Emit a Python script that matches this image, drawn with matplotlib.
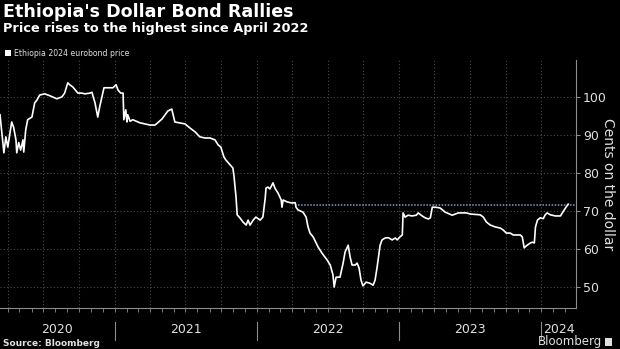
import matplotlib
matplotlib.use("Agg")
import matplotlib.pyplot as plt
import matplotlib.dates as mdates
import matplotlib.transforms as mtransforms
from matplotlib import font_manager
import numpy as np
import pandas as pd

# ---- data ----
dates = [
    "2020-03-12", "2020-03-22", "2020-03-27", "2020-04-01", "2020-04-11", "2020-04-16",
    "2020-04-22", "2020-04-24", "2020-04-29", "2020-05-04", "2020-05-10", "2020-05-12",
    "2020-05-17", "2020-05-22", "2020-06-02", "2020-06-09", "2020-06-15", "2020-06-22",
    "2020-07-05", "2020-07-18", "2020-08-05", "2020-08-18", "2020-08-25", "2020-09-02",
    "2020-09-07", "2020-09-15", "2020-09-28", "2020-10-08", "2020-10-16", "2020-10-29",
    "2020-11-03", "2020-11-11", "2020-11-18", "2020-11-23", "2020-12-04", "2020-12-14",
    "2020-12-27", "2021-01-04", "2021-01-09", "2021-01-16", "2021-01-22", "2021-01-24",
    "2021-01-29", "2021-02-01", "2021-02-03", "2021-02-09", "2021-02-16", "2021-03-06",
    "2021-03-19", "2021-04-01", "2021-04-14", "2021-04-21", "2021-05-02", "2021-05-10",
    "2021-05-17", "2021-05-27", "2021-06-04", "2021-06-30", "2021-07-13", "2021-07-26",
    "2021-08-07", "2021-08-20", "2021-09-02", "2021-09-15", "2021-09-23", "2021-09-30",
    "2021-10-08", "2021-10-13", "2021-10-24", "2021-10-31", "2021-11-03", "2021-11-08",
    "2021-11-11", "2021-11-18", "2021-11-26", "2021-12-04", "2021-12-09", "2021-12-14",
    "2021-12-22", "2021-12-29", "2022-01-09", "2022-01-16", "2022-01-22", "2022-01-24",
    "2022-01-29", "2022-02-03", "2022-02-11", "2022-02-16", "2022-02-24", "2022-03-04",
    "2022-03-06", "2022-03-09", "2022-03-19", "2022-04-01", "2022-04-09", "2022-04-11",
    "2022-04-16", "2022-04-29", "2022-05-07", "2022-05-12", "2022-05-17", "2022-05-25",
    "2022-06-07", "2022-06-17", "2022-06-30", "2022-07-08", "2022-07-15", "2022-07-18",
    "2022-07-23", "2022-08-02", "2022-08-10", "2022-08-15", "2022-08-23", "2022-08-28",
    "2022-09-02", "2022-09-10", "2022-09-15", "2022-09-20", "2022-09-25", "2022-09-30",
    "2022-10-08", "2022-10-18", "2022-10-26", "2022-10-31", "2022-11-05", "2022-11-13",
    "2022-11-18", "2022-11-26", "2022-12-04", "2022-12-14", "2022-12-22", "2022-12-27",
    "2023-01-03", "2023-01-09", "2023-01-11", "2023-01-16", "2023-01-24", "2023-02-03",
    "2023-02-14", "2023-02-19", "2023-03-01", "2023-03-09", "2023-03-17", "2023-03-22",
    "2023-03-27", "2023-04-04", "2023-04-16", "2023-04-29", "2023-05-17", "2023-06-02",
    "2023-06-22", "2023-07-03", "2023-07-28", "2023-08-05", "2023-08-13", "2023-08-23",
    "2023-09-05", "2023-09-18", "2023-09-25", "2023-10-03", "2023-10-13", "2023-10-21",
    "2023-10-31", "2023-11-08", "2023-11-13", "2023-11-18", "2023-11-23", "2023-12-04",
    "2023-12-09", "2023-12-14", "2023-12-17", "2023-12-22", "2023-12-29", "2024-01-06",
    "2024-01-11", "2024-01-16", "2024-01-24", "2024-02-06", "2024-02-19", "2024-02-24",
    "2024-03-03", "2024-03-10",
]
prices = [
    95.3, 85.3, 89.5, 86.8, 93.4, 92.0,
    88.7, 85.3, 88.0, 86.0, 88.7, 85.5,
    91.3, 94.0, 94.7, 98.4, 99.2, 100.5,
    100.8, 100.3, 99.5, 100.0, 101.0, 103.7,
    103.2, 102.6, 101.0, 101.0, 100.8, 101.0,
    101.2, 98.4, 94.7, 97.4, 102.4, 102.4,
    102.4, 103.2, 101.8, 101.0, 101.0, 94.0,
    96.6, 93.4, 95.3, 93.6, 94.0, 93.2,
    92.9, 92.6, 92.6, 93.2, 94.2, 95.3,
    96.3, 96.8, 93.4, 92.9, 91.8, 90.8,
    89.5, 89.2, 89.2, 88.7, 87.4, 86.8,
    84.2, 83.4, 82.1, 81.3, 79.0, 73.7,
    69.0, 68.2, 67.1, 66.3, 67.6, 66.3,
    67.6, 68.4, 67.6, 68.4, 73.4, 76.0,
    76.3, 75.8, 77.4, 76.0, 74.7, 72.9,
    71.0, 72.9, 72.4, 72.1, 72.2, 71.0,
    70.3, 69.7, 68.4, 65.8, 64.2, 63.2,
    60.5, 58.9, 57.1, 55.8, 53.2, 50.0,
    52.6, 52.6, 56.3, 59.2, 61.0, 57.9,
    55.8, 55.8, 56.3, 55.0, 51.8, 50.3,
    51.3, 51.0, 50.5, 51.8, 55.0, 61.0,
    62.4, 62.9, 63.0, 62.4, 62.9, 62.4,
    63.2, 63.7, 69.5, 68.4, 68.9, 68.7,
    68.9, 69.5, 68.7, 68.2, 67.9, 68.2,
    71.0, 71.0, 70.8, 69.7, 68.9, 69.5,
    69.5, 69.2, 69.0, 68.4, 67.1, 66.3,
    65.8, 65.5, 65.0, 64.2, 64.2, 63.7,
    63.7, 63.7, 63.2, 60.3, 60.8, 61.6,
    61.8, 61.6, 65.8, 67.6, 68.2, 68.0,
    69.0, 69.5, 69.0, 68.7, 68.7, 69.5,
    70.8, 71.8,
]
highest_level = 71.7
highest_since = "2022-04-09"
year_labels = ["2020", "2021", "2022", "2023", "2024"]
y_ticks = [50, 60, 70, 80, 90, 100]

title = "Ethiopia's Dollar Bond Rallies"
subtitle = "Price rises to the highest since April 2022"
legend_label = "Ethiopia 2024 eurobond price"
y_label = "Cents on the dollar"
source = "Source: Bloomberg"

# ---- fonts ----
installed = {f.name for f in font_manager.fontManager.ttflist}
if "Liberation Sans Narrow" in installed:
    NARROW = "Liberation Sans Narrow"
    legend_fs = 7.5
else:
    NARROW = "DejaVu Sans"
    legend_fs = 5.6

# ---- figure ----
BG = "black"
TXT = "#e0e0e0"
GRID = "#4a4a4a"
AXC = "#8c8c8c"

fig = plt.figure(figsize=(6.2, 3.49), dpi=100, facecolor=BG)
W, H = 620, 349
ax = fig.add_axes([0, (H - 308) / H, 576 / W, (308 - 60) / H], facecolor=BG)

x = pd.to_datetime(dates)
ax.plot(x, prices, color="white", lw=1.2, zorder=3)
ax.plot([pd.Timestamp(highest_since), pd.Timestamp("2024-03-30")],
        [highest_level, highest_level], color="#7a9bd0", lw=1.1,
        linestyle=(0, (1, 1)), zorder=2)

ax.set_xlim(pd.Timestamp("2020-03-12"), pd.Timestamp("2024-03-30"))
ax.set_ylim(44.5, 109.7)

# grid
ax.xaxis.set_major_locator(mdates.MonthLocator(bymonth=[1, 4, 7, 10]))
ax.xaxis.set_minor_locator(mdates.MonthLocator())
ax.set_yticks(y_ticks)
ax.grid(True, which="major", color=GRID, linestyle=(0, (1, 2)), lw=0.8)

# spines
for s in ["top", "left"]:
    ax.spines[s].set_visible(False)
ax.spines["right"].set_color(AXC)
ax.spines["bottom"].set_color(AXC)
ax.spines["right"].set_linewidth(0.8)
ax.spines["bottom"].set_linewidth(0.8)

ax.yaxis.tick_right()
ax.yaxis.set_label_position("right")
ax.tick_params(axis="y", colors=AXC, labelcolor=TXT, labelsize=9, length=3, width=0.8, pad=2)
ax.tick_params(axis="x", which="both", colors=AXC, length=3, width=0.6, labelbottom=False)
ax.set_ylabel(y_label, color=TXT, fontsize=10, rotation=270, labelpad=6)

# year labels and separators
trans = mtransforms.blended_transform_factory(ax.transData, ax.transAxes)
starts = [pd.Timestamp("2020-03-12")] + [pd.Timestamp(f"{y}-01-01") for y in year_labels[1:]]
ends = [pd.Timestamp(f"{y}-01-01") for y in year_labels[1:]] + [pd.Timestamp("2024-03-30")]
for lab, s, e in zip(year_labels, starts, ends):
    mid = s + (e - s) / 2
    ax.text(mid, -0.085, lab, transform=trans, ha="center", va="center",
            color=TXT, fontsize=9, clip_on=False)
for y in year_labels[1:]:
    ax.plot([pd.Timestamp(f"{y}-01-01")] * 2, [-0.055, -0.13], transform=trans,
            color=AXC, lw=0.8, clip_on=False)

# titles
fig.text(3 / W, 1 - 3 / H, title, color="white", fontsize=12.6, fontweight="bold",
         va="top", ha="left")
fig.text(3 / W, 1 - 22 / H, subtitle, color="white", fontsize=9.3, fontweight="bold",
         va="top", ha="left")
fig.patches.append(plt.Rectangle((5 / W, 1 - 56 / H), 6 / W, 6 / H, transform=fig.transFigure,
                                 facecolor="white", edgecolor="none"))
fig.text(14 / W, 1 - 53 / H, legend_label, color=TXT, fontsize=legend_fs, va="center",
         ha="left", family=NARROW)

fig.text(3 / W, 1 - 343 / H, source, color=TXT, fontsize=6.5, fontweight="bold",
         va="center", ha="left")
fig.text(602 / W, 1 - 342 / H, "Bloomberg", color=TXT, fontsize=8.5,
         va="center", ha="right")
fig.patches.append(plt.Rectangle((605 / W, 1 - 346 / H), 7 / W, 8 / H, transform=fig.transFigure,
                                 facecolor=TXT, edgecolor="none"))

fig.savefig("out.png", dpi=100, facecolor=BG)
